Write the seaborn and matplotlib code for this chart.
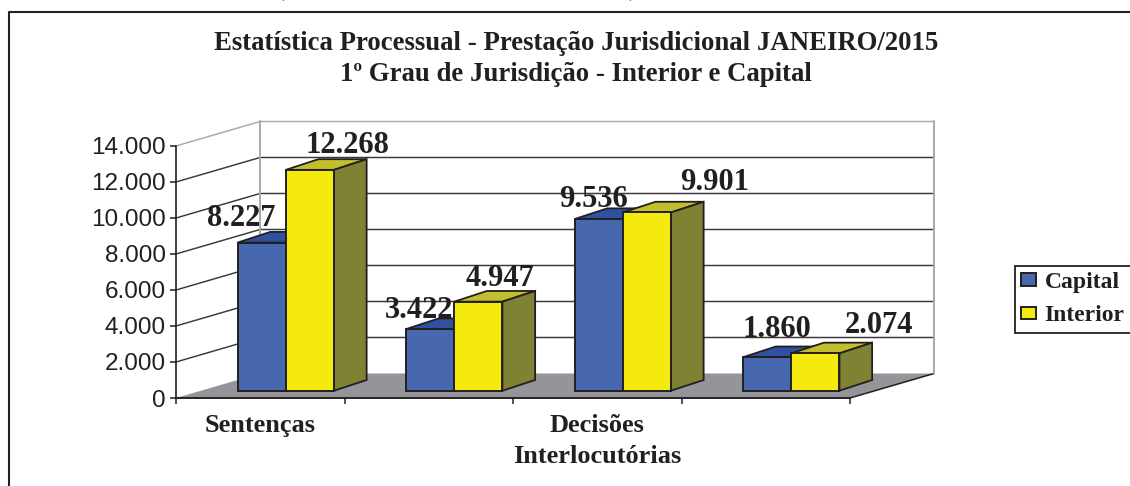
import numpy as np
import pandas as pd
import matplotlib
matplotlib.use("Agg")
import matplotlib.pyplot as plt
import seaborn as sns
from matplotlib.patches import Polygon
from matplotlib.lines import Line2D
from matplotlib.transforms import Affine2D, IdentityTransform

# ---- data ----
categories = ["Sentenças", " ", "Decisões\nInterlocutórias", "  "]
capital = [8227, 3422, 9536, 1860]
interior = [12268, 4947, 9901, 2074]
series_names = ["Capital", "Interior"]
y_ticks = [0, 2000, 4000, 6000, 8000, 10000, 12000, 14000]
y_tick_labels = ["0", "2.000", "4.000", "6.000", "8.000", "10.000", "12.000", "14.000"]
title_lines = ["Estatística Processual - Prestação Jurisdicional JANEIRO/2015",
               "1º Grau de Jurisdição - Interior e Capital"]

# ---- style ----
INK = "#231F20"
GRID = "#3A3839"
WALL = "#A7A9AC"
FLOOR = "#939598"
FRONT = {"Capital": "#4767AF", "Interior": "#F5EA0E"}
TOPC = {"Capital": "#2F52A0", "Interior": "#C2BE2C"}
SIDE = {"Capital": "#2A4580", "Interior": "#7F8133"}
SERIF = "Liberation Serif"
W, H = 1130, 486

sns.set_theme(style="white")
plt.rcParams["font.family"] = ["Liberation Sans", "DejaVu Sans"]

fig = plt.figure(figsize=(W / 100, H / 100), dpi=100, facecolor="white")
ax = fig.add_axes([176 / W, (H - 398) / H, (850 - 176) / W, 252 / H])
ax.patch.set_visible(False)

df = pd.DataFrame({
    "categoria": categories * 2,
    "serie": [series_names[0]] * 4 + [series_names[1]] * 4,
    "valor": capital + interior,
})
sns.barplot(data=df, x="categoria", y="valor", hue="serie", hue_order=series_names,
            palette=FRONT, width=0.572, gap=0, dodge=True, ax=ax, saturation=1,
            edgecolor=INK, linewidth=1.4, errorbar=None)
ax.set_xlim(-0.5, 3.5)
ax.set_ylim(0, 14000)

# the bars, taken before any other patch is added
bars = []
for c in ax.containers:
    bars.extend(list(c))
bars = sorted(bars, key=lambda r: r.get_x())

# depth geometry (pixels)
WALL_DX, WALL_DY = 84, 24.5
BAR_SHIFT_X, BAR_SHIFT_Y = 25.5, 7.3
BAR_DX, BAR_DY = 32.7, 10.7


def shifted(dx, dy):
    return ax.transData + Affine2D().translate(dx, dy)


def to_px(x, y):
    return ax.transData.transform((x, y))


x0, x1 = -0.5, 3.5
# floor
a, b = to_px(x0, 0), to_px(x1, 0)
off = np.array([WALL_DX, WALL_DY])
ax.add_patch(Polygon([a, a + off, b + off, b], closed=True, transform=IdentityTransform(),
                     facecolor=FLOOR, edgecolor="none", zorder=0.5, clip_on=False))
fig_line = dict(transform=IdentityTransform(), clip_on=False)
ax.add_line(Line2D([a[0], b[0], b[0] + off[0]], [a[1], b[1], b[1] + off[1]], color=INK, lw=1.1,
                   zorder=0.9, **fig_line))
# grid lines on the side and back walls
for v in y_ticks[1:]:
    p = to_px(x0, v)
    q = to_px(x1, v)
    col = WALL if v == y_ticks[-1] else GRID
    ax.add_line(Line2D([p[0], p[0] + off[0], q[0] + off[0]], [p[1], p[1] + off[1], q[1] + off[1]],
                       color=col, lw=1.05, zorder=1, **fig_line))
# back wall edges
for xv in (x0, x1):
    p = to_px(xv, 0) + off
    q = to_px(xv, 14000) + off
    ax.add_line(Line2D([p[0], q[0]], [p[1], q[1]], color=WALL, lw=1.4, zorder=1.1, **fig_line))

# bars: shift front faces and add top and side faces from each bar's own geometry
for i, r in enumerate(bars):
    name = series_names[i % 2]
    z = 2 + i
    r.set_zorder(z + 0.2)
    r.set_transform(shifted(BAR_SHIFT_X, BAR_SHIFT_Y))
    r.set_clip_on(False)
    xa, xb, h = r.get_x(), r.get_x() + r.get_width(), r.get_height()
    s = np.array([BAR_SHIFT_X, BAR_SHIFT_Y])
    d = np.array([BAR_DX, BAR_DY])
    bl, br, tl, tr = to_px(xa, 0) + s, to_px(xb, 0) + s, to_px(xa, h) + s, to_px(xb, h) + s
    ax.add_patch(Polygon([tl, tr, tr + d, tl + d], closed=True, transform=IdentityTransform(),
                         facecolor=TOPC[name], edgecolor=INK, lw=1.3, zorder=z, clip_on=False))
    ax.add_patch(Polygon([br, tr, tr + d, br + d], closed=True, transform=IdentityTransform(),
                         facecolor=SIDE[name], edgecolor=INK, lw=1.3, zorder=z + 0.1, clip_on=False))

# data labels: hand-placed in the original chart (pixel offset from top of bar front centre)
label_offsets = [(-20, 17), (38, 16.5), (-11, 11), (22, 15.5), (-5, 12), (68, 22), (10, 20), (64, 20)]
for i, r in enumerate(bars):
    xc = r.get_x() + r.get_width() / 2
    v = r.get_height()
    txt = f"{int(v):,}".replace(",", ".")
    dx, dy = label_offsets[i]
    p = to_px(xc, v) + np.array([BAR_SHIFT_X + dx, BAR_SHIFT_Y + dy])
    ax.text(p[0], p[1], txt, transform=IdentityTransform(), ha="center", va="baseline",
            family=SERIF, weight="bold", fontsize=22, color=INK, zorder=50, clip_on=False)

# axes
sns.despine(ax=ax, top=True, right=True)
for side in ("left", "bottom"):
    ax.spines[side].set_color(INK)
    ax.spines[side].set_linewidth(1.2)
    ax.spines[side].set_zorder(40)
ax.set_xlabel("")
ax.set_ylabel("")
ax.set_yticks(y_ticks)
ax.set_yticklabels(y_tick_labels, fontsize=17.5, color=INK)
ax.tick_params(axis="y", length=4.5, width=1.1, color=INK, pad=3, left=True)
ax.set_xticks([0, 1, 2, 3])
ax.set_xticklabels(categories, family=SERIF, weight="bold", fontsize=19, color=INK, linespacing=1.45)
ax.set_xticks([-0.5, 0.5, 1.5, 2.5, 3.5], minor=True)
ax.tick_params(axis="x", which="major", length=0, pad=11.5)
ax.tick_params(axis="x", which="minor", length=4.5, width=1.1, color=INK, bottom=True)

# title
fig.text(576 / W, 1 - 50 / H, title_lines[0], ha="center", va="baseline", family=SERIF, weight="bold",
         fontsize=19.3, color=INK)
fig.text(576 / W, 1 - 81 / H, title_lines[1], ha="center", va="baseline", family=SERIF, weight="bold",
         fontsize=19.3, color=INK)

# clipped fragment of surrounding page text at the top
fig.text(281 / W, 1 + 10 / H, "(", ha="center", va="center", family=SERIF, fontsize=17, color=INK)
fig.text(632 / W, 1 + 10 / H, ")", ha="center", va="center", family=SERIF, fontsize=17, color=INK)

# outer frame
fig.add_artist(Line2D([9 / W, 9 / W, 1], [0, 1 - 11.7 / H, 1 - 11.7 / H], color=INK, lw=1.5,
                      transform=fig.transFigure))

# legend
handles, labels = ax.get_legend_handles_labels()
if ax.get_legend() is not None:
    ax.get_legend().remove()
leg = fig.legend(handles, labels, loc="upper left", bbox_to_anchor=(1015 / W, 1 - 265.5 / H),
                 bbox_transform=fig.transFigure, frameon=True, fancybox=False, edgecolor=INK,
                 facecolor="white", framealpha=1, borderaxespad=0, borderpad=0.27,
                 handlelength=0.64, handleheight=0.45, handletextpad=0.34, labelspacing=0.53,
                 prop={"family": SERIF, "weight": "bold", "size": 17}, labelcolor=INK)
leg.get_frame().set_linewidth(1.3)

fig.savefig("out.png", dpi=100, facecolor="white")
